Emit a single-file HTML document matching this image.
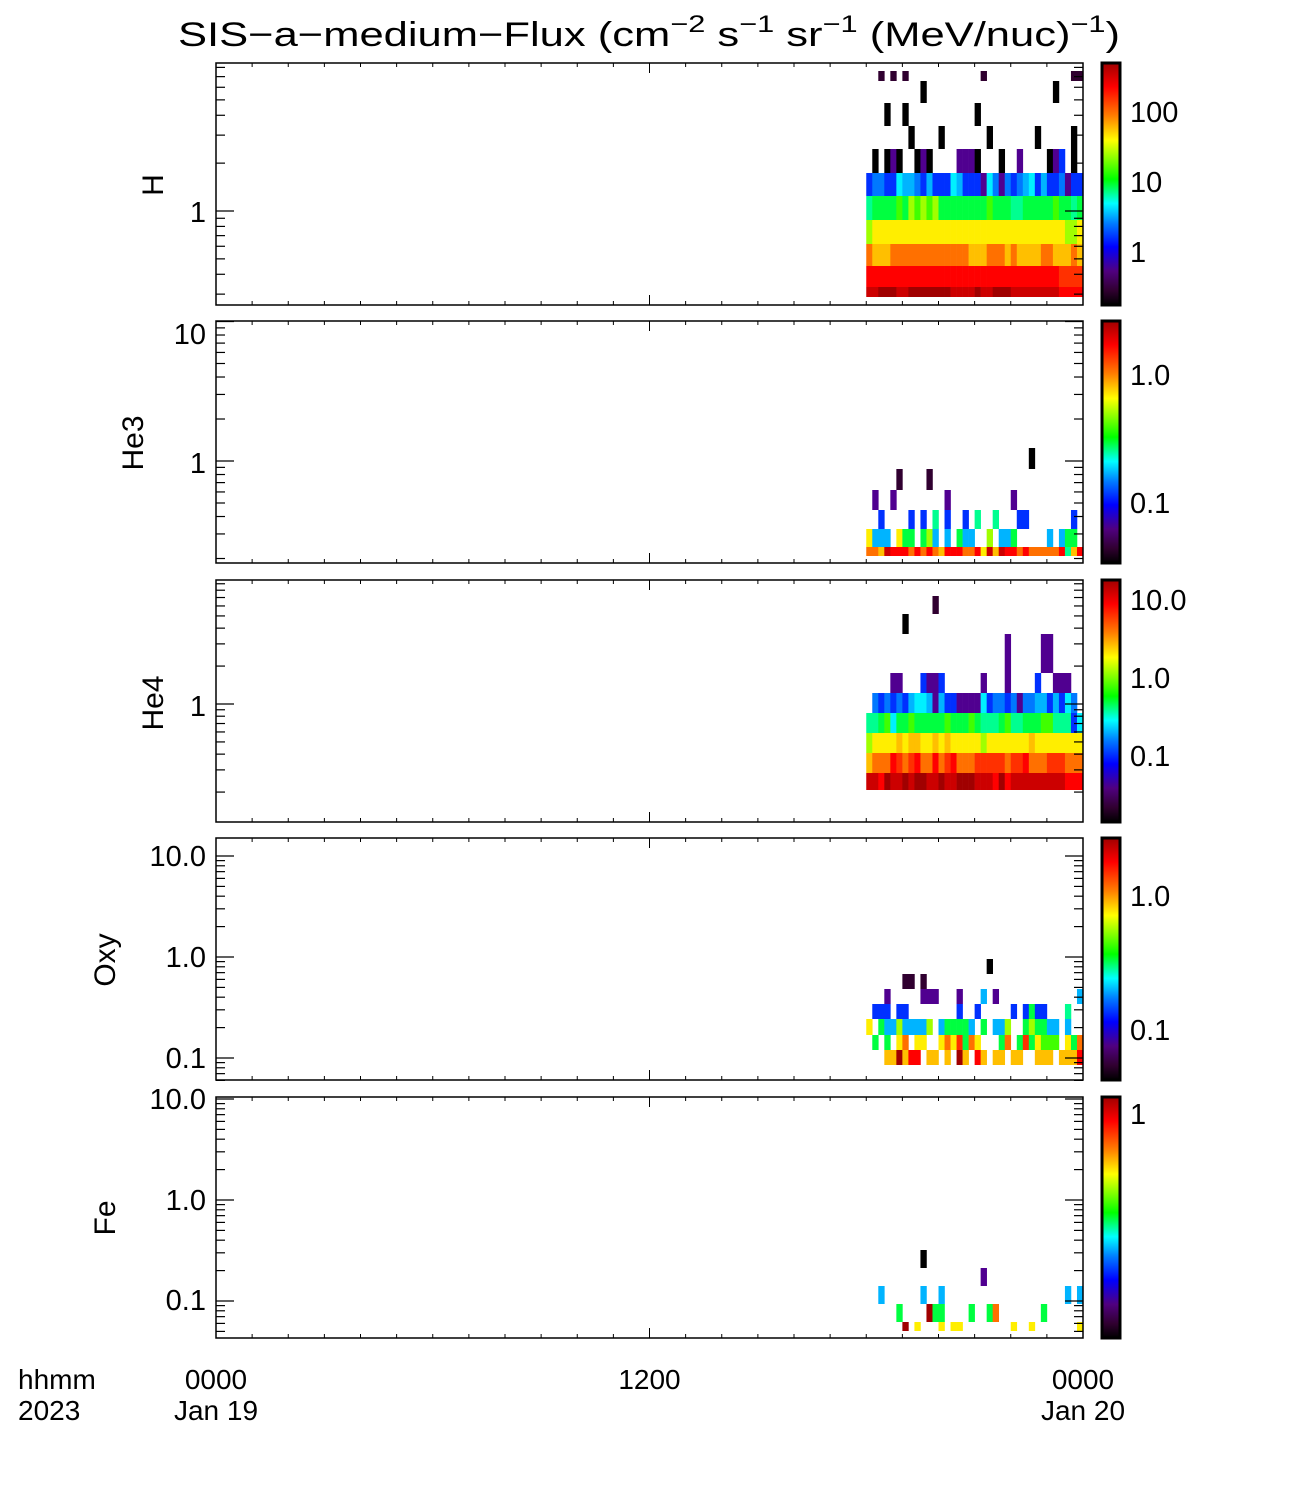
<!DOCTYPE html>
<html><head><meta charset="utf-8"><style>
html,body{margin:0;padding:0;background:#fff;}
svg text{font-family:"Liberation Sans",sans-serif;fill:#000;}
</style></head><body>
<svg id="chart" width="1300" height="1500" viewBox="0 0 1300 1500" xmlns="http://www.w3.org/2000/svg">
<defs>
<linearGradient id="rainbow" x1="0" y1="1" x2="0" y2="0">
<stop offset="0" stop-color="#000000"/><stop offset="0.06" stop-color="#300030"/>
<stop offset="0.14" stop-color="#500080"/><stop offset="0.24" stop-color="#0000ff"/>
<stop offset="0.34" stop-color="#0080ff"/><stop offset="0.42" stop-color="#00ffff"/>
<stop offset="0.52" stop-color="#00ff00"/><stop offset="0.6" stop-color="#80ff00"/>
<stop offset="0.68" stop-color="#ffff00"/><stop offset="0.78" stop-color="#ff8000"/>
<stop offset="0.9" stop-color="#ff0000"/><stop offset="1" stop-color="#a00000"/>
</linearGradient>
</defs>
<text x="178" y="46" font-size="34" textLength="942" lengthAdjust="spacingAndGlyphs">SIS−a−medium−Flux (cm<tspan dy="-14" font-size="24">−2</tspan><tspan dy="14"> s</tspan><tspan dy="-14" font-size="24">−1</tspan><tspan dy="14"> sr</tspan><tspan dy="-14" font-size="24">−1</tspan><tspan dy="14"> (MeV/nuc)</tspan><tspan dy="-14" font-size="24">−1</tspan><tspan dy="14">)</tspan></text>
<g id="layer"></g>
<text x="18" y="1389" font-size="28">hhmm</text>
<text x="18" y="1420" font-size="28">2023</text>
</svg>
<script>
// ---- data ----
const binStartHours = []; for (let i = 0; i < 36; i++) binStartHours.push(18 + i / 6);
const xTickHours = [0, 12, 24];
const xTickLabels = ["0000", "1200", "0000"];
const xDateLabels = ["Jan 19", "", "Jan 20"];
const panelNames = ["H", "He3", "He4", "Oxy", "Fe"];

const hCells = [
"..1.1.1............1..............11",
".........0.....................0....",
"...0..0...........0.................",
".......0....0.......0.......0.....0.",
".0.020..020....2220...0..2....023.0.",
"344336554353336533326424345635334233",
"7888898a9a9a888888889888778888898878",
"abbbbbbbbbbbbbbbbbbbbbbbbbbbbbbbbaab",
"dcccdddddddddddddcccdddcdccccddcccdc",
"ffffffffffffffffffffffffffffffffeeee",
"gghhhgghhhhhhhgggghgghhhggggggggffff"];
const he3Cells = [
"...........................0........",
".....1....1.........................",
".2..2........2..........2...........",
"..3....3.3.7.3..3.7..7...33.......3.",
"b555.b88.8a5.5.855..a.558.....5.588.",
"ddcgfffdfdfdcfffddfbgcgffdfdddddf7cf"];
const he4Cells = [
"...........1........................",
"......0.............................",
".......................2.....22.....",
"....22...3223......2...2....3..222..",
".4343435665253322226344342445535364.",
"778968898888898889877789778889977736",
"abbbbcbccbbcbcbbbbbabbbbbbbcbbbbbbbb",
"cdddfedefddfdefdddeeeeedeefdddeeeddd",
"ggfhgghghhgghgghhhgggfhfgggggggggfff"];
const oxyCells = [
"....................0...............",
"......11.1..........................",
"...2.....222...2...5.2.............5",
".333.33........3..3.....3.3833...7..",
"b.855a5555a.588885.8.55a..8a8855.5..",
".8.8.bd.bb..bdbe8db...8d.8e8b999.b8d",
"...cchcff.cc.c.hc.fc.cc.cc..ccc.cccf"];
const feCells = [
".........0..........................",
"...................2................",
"..5......5..5....................5.5",
".....8....h88....8..8d.......8......",
"......h.b...b.bb........b..b.......b"];

// layout (pixel geometry, not data)
const L = 216, R = 1083;
const panelTops = [63, 321, 580, 838, 1097];
const panelBots = [305, 563, 822, 1080, 1338];
const rowEdges = [
 [71,81,103,126,149,173,196,220,244,266,287,297],
 [448,469,490,510,529,547,556],
 [596,614,634,673,693,713,733,753,773,790,806],
 [959,974,989,1004,1019,1035,1050,1065,1073],
 [1250,1268,1286,1304,1322,1331]];
const yRef = [[1,211,159],[1,461,139.5],[1,704,126],[1,957,101],[1,1200,101]];
const yLabels = [[["1",1]],[["10",10],["1",1]],[["1",1]],[["10.0",10],["1.0",1],["0.1",0.1]],[["10.0",10],["1.0",1],["0.1",0.1]]];
const yLabelPos = [[212],[334,463],[706],[856,957,1058],[1099,1200,1300]];
const titlePos = [[153,185],[133,443],[153,703],[105,960],[105,1218]];
const cbLabels = [["100","10","1"],["1.0","0.1"],["10.0","1.0","0.1"],["1.0","0.1"],["1"]];
const cbLabelY = [[112,182,252],[375,503],[600,678,756],[896,1030],[1114]];
const allCells = [hCells, he3Cells, he4Cells, oxyCells, feCells];

const palette = {"0":"#000000","1":"#300030","2":"#500090","3":"#0030ff","4":"#0078ff","5":"#00b4ff","6":"#00f0ff","7":"#00ff90","8":"#00ff40","9":"#40ff00","a":"#a0ff00","b":"#ffee00","c":"#ffbf00","d":"#ff7000","e":"#ff3000","f":"#ff0000","g":"#cc0000","h":"#a00000"};

const NS = "http://www.w3.org/2000/svg";
const layer = document.getElementById("layer");
function el(tag, attrs, parent) {
  const e = document.createElementNS(NS, tag);
  for (const k in attrs) e.setAttribute(k, attrs[k]);
  (parent || layer).appendChild(e);
  return e;
}
function xScale(h) { return L + (R - L) * h / 24; }

for (let p = 0; p < 5; p++) {
  const g = el("g", {});
  
  
  const top = panelTops[p], bot = panelBots[p];
  const cells = allCells[p], edges = rowEdges[p];
  for (let r = 0; r < cells.length; r++) {
    for (let c = 0; c < binStartHours.length; c++) {
      const ch = cells[r][c];
      if (!ch || ch === "." || !palette[ch]) continue;
      const x0 = xScale(binStartHours[c]);
      const x1 = Math.min(R, xScale(binStartHours[c] + 1 / 6));
      const rc = el("rect", {x: x0, y: edges[r], width: x1 - x0 + 0.3, height: edges[r + 1] - edges[r], fill: palette[ch]}, g);
      
      
    }
  }
  const fr = el("rect", {x: L, y: top, width: R - L, height: bot - top, fill: "none", stroke: "#000", "stroke-width": 1.5}, g);
  
  
  for (let h = 1; h < 24; h++) {
    const x = xScale(h), len = (h % 12 === 0) ? 10 : 4;
    el("line", {x1: x, x2: x, y1: top, y2: top + len, stroke: "#000", "stroke-width": 1}, g);
    el("line", {x1: x, x2: x, y1: bot, y2: bot - len, stroke: "#000", "stroke-width": 1}, g);
  }
  const [v0, y0, D] = yRef[p];
  for (let e = -3; e <= 2; e++) {
    for (let m = 1; m <= 9; m++) {
      const v = m * Math.pow(10, e);
      const y = y0 - D * Math.log10(v / v0);
      if (y < top - 0.5 || y > bot + 0.5) continue;
      const len = m === 1 ? 18 : 9;
      el("line", {x1: L, x2: L + len, y1: y, y2: y, stroke: "#000", "stroke-width": 1.2}, g);
      el("line", {x1: R, x2: R - len, y1: y, y2: y, stroke: "#000", "stroke-width": 1.2}, g);
    }
  }
  yLabels[p].forEach((lb, i) => {
    const t = el("text", {x: 206, y: yLabelPos[p][i] + 10, "font-size": 29, "text-anchor": "end"}, g);
    t.textContent = lb[0];
    
    
  });
  const tt = el("text", {x: 0, y: 0, "font-size": 30, "text-anchor": "middle", transform: `translate(${titlePos[p][0] + 10},${titlePos[p][1]}) rotate(-90)`}, g);
  tt.textContent = panelNames[p];
  
  
  const cb = el("rect", {x: 1102, y: top, width: 18, height: bot - top, fill: "url(#rainbow)", stroke: "#000", "stroke-width": 3}, g);
  
  
  cbLabels[p].forEach((s, i) => {
    const t = el("text", {x: 1130, y: cbLabelY[p][i] + 10, "font-size": 29}, g);
    t.textContent = s;
    
    
  });
}
xTickHours.forEach((h, i) => {
  const t = el("text", {x: xScale(h), y: 1389, "font-size": 28, "text-anchor": "middle"});
  t.textContent = xTickLabels[i];
  
  
  if (xDateLabels[i]) {
    const d = el("text", {x: xScale(h), y: 1420, "font-size": 28, "text-anchor": "middle"});
    d.textContent = xDateLabels[i];
    
    
  }
});
</script>
</body></html>
